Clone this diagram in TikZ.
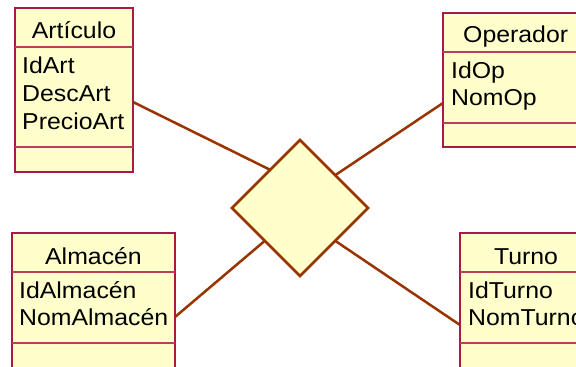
\documentclass[tikz,border=0pt]{standalone}
\usepackage{fontspec}
\newfontfamily\umlfont[FakeStretch=1.08]{Liberation Sans}
\usetikzlibrary{shapes.geometric,backgrounds}
\definecolor{classfill}{HTML}{FFFFCC}
\definecolor{classline}{HTML}{A8194A}
\definecolor{classsep}{HTML}{B8405E}
\definecolor{assocline}{HTML}{993300}
\tikzset{
  classbox/.style={draw=classline, line width=1.4pt, fill=classfill, rectangle,
    anchor=north west, inner sep=0pt, outer sep=0pt},
  sepline/.style={draw=classsep, line width=1.1pt},
  baseline rule/.style={draw=classline, line width=2.6pt},
  txt/.style={font=\umlfont\fontsize{23}{27}\selectfont, inner sep=0pt, anchor=base west},
  ttl/.style={txt, anchor=base},
  assoc/.style={draw=assocline, line width=2.5pt},
  relshape/.style={diamond, aspect=1, draw=assocline, line width=2.8pt, fill=classfill,
    minimum width=136pt, minimum height=136pt, inner sep=0pt, outer sep=0pt}
}
\begin{document}
\begin{tikzpicture}[x=1pt,y=-1pt]
\useasboundingbox (0,0) rectangle (576,367);
\clip (0,0) rectangle (576,367);

% class boxes
\node[classbox, minimum width=118pt, minimum height=164pt] (art) at (15,8) {};
\node[classbox, minimum width=160pt, minimum height=134pt] (op) at (443,13) {};
\node[classbox, minimum width=163pt, minimum height=160pt] (alm) at (12,233) {};
\node[classbox, minimum width=140pt, minimum height=160pt] (tur) at (460,233) {};

% compartment separators
\draw[sepline] (15,47) -- (133,47);
\draw[sepline] (15,147) -- (133,147);
\draw[baseline rule] (15,172) -- (133,172);
\draw[sepline] (443,52) -- (603,52);
\draw[sepline] (443,123) -- (603,123);
\draw[baseline rule] (443,147) -- (603,147);
\draw[sepline] (12,272) -- (175,272);
\draw[sepline] (12,343) -- (175,343);
\draw[sepline] (460,272) -- (600,272);
\draw[sepline] (460,343) -- (600,343);

% class names and attributes
\node[ttl] (artT) at (74,38) {Artículo};
\node[txt] (artA1) at (22,73) {IdArt};
\node[txt] (artA2) at (22,101) {DescArt};
\node[txt] (artA3) at (22,129) {PrecioArt};

\node[txt] (opT) at (463,42) {Operador};
\node[txt] (opA1) at (451,78) {IdOp};
\node[txt] (opA2) at (451,105) {NomOp};

\node[ttl] (almT) at (93.5,264) {Almacén};
\node[txt] (almA1) at (19,298) {IdAlmacén};
\node[txt] (almA2) at (19,325) {NomAlmacén};

\node[ttl] (turT) at (526,264) {Turno};
\node[txt] (turA1) at (468,298) {IdTurno};
\node[txt] (turA2) at (468,325) {NomTurno};

% n-ary association
\node[relshape] (rel) at (300,208) {};
\begin{scope}[on background layer]
\fill[white] (0,0) rectangle (576,367);
\draw[assoc] ([yshift=-94pt]art.north east) -- (rel.128);
\draw[assoc] ([yshift=-90pt]op.north west) -- (rel.43);
\draw[assoc] ([yshift=-84pt]alm.north east) -- (rel.223);
\draw[assoc] ([yshift=-92pt]tur.north west) -- (rel.317);
\end{scope}
\end{tikzpicture}
\end{document}
